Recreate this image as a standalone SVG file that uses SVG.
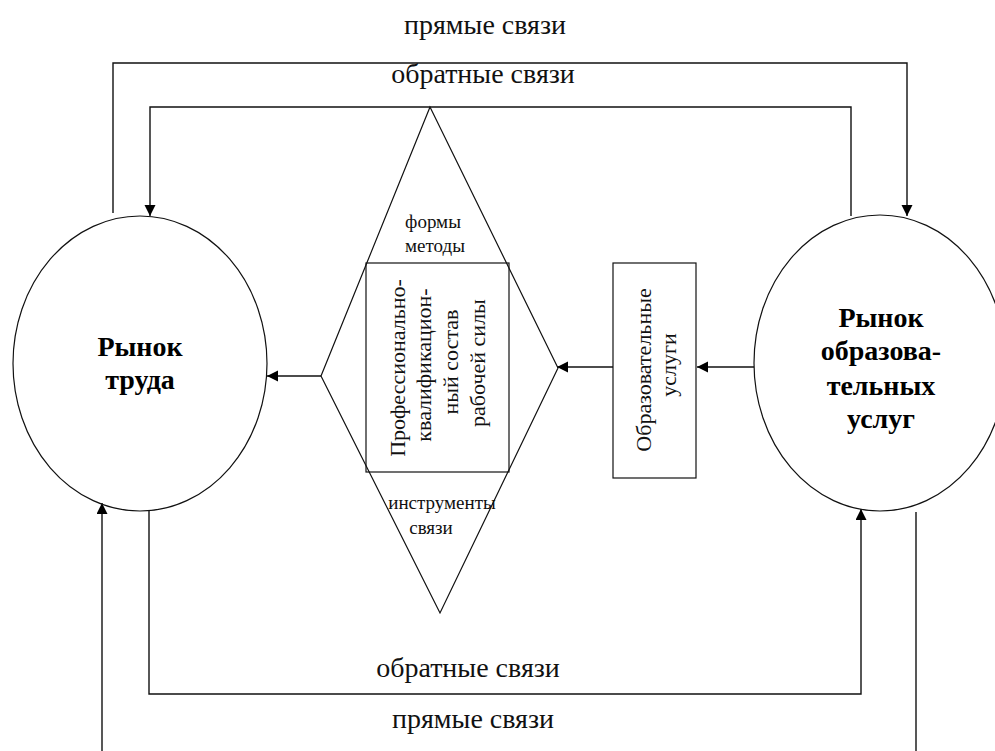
<svg xmlns="http://www.w3.org/2000/svg" width="995" height="751" viewBox="0 0 995 751">
<style>
  .shape { fill: none; stroke: #111; stroke-width: 1.2; }
  .line { fill: none; stroke: #111; stroke-width: 1.4; }
  .lbl { font-family: "Liberation Serif", "Times New Roman", serif; font-size: 28px; fill: #111; text-anchor: middle; }
  .big { font-family: "Liberation Serif", "Times New Roman", serif; font-size: 28px; font-weight: bold; fill: #000; text-anchor: middle; }
  .rot { font-family: "Liberation Serif", "Times New Roman", serif; font-size: 22px; fill: #111; text-anchor: middle; }
  .small { font-family: "Liberation Serif", "Times New Roman", serif; font-size: 19px; fill: #111; text-anchor: middle; }
</style>
<defs>
  <marker id="arr" markerUnits="userSpaceOnUse" markerWidth="12" markerHeight="12" refX="11" refY="5.5" orient="auto">
    <path d="M0,0 L11,5.5 L0,11 z" fill="#000"/>
  </marker>
</defs>
<rect x="0" y="0" width="995" height="751" fill="#fff"/>

<g id="connectors">
  <path class="line" d="M113,213 V63 H907 V216" marker-end="url(#arr)"/>
  <path class="line" d="M851,216 V107 H150 V216" marker-end="url(#arr)"/>
  <path class="line" d="M321,376 H267" marker-end="url(#arr)"/>
  <path class="line" d="M613,367 H557" marker-end="url(#arr)"/>
  <path class="line" d="M754,367 H697" marker-end="url(#arr)"/>
  <path class="line" d="M149,511 V694 H861 V509" marker-end="url(#arr)"/>
  <path class="line" d="M916,512 V751"/>
  <path class="line" d="M102,751 V503" marker-end="url(#arr)"/>
  <text class="lbl" x="485" y="34">прямые связи</text>
  <text class="lbl" x="483" y="83">обратные связи</text>
  <text class="lbl" x="468" y="677">обратные связи</text>
  <text class="lbl" x="473" y="728">прямые связи</text>
</g>

<g id="labour-market">
  <ellipse class="shape" cx="140" cy="363.5" rx="127" ry="147.5" fill="#fff"/>
  <text class="big" x="140" y="356">Рынок</text>
  <text class="big" x="140" y="389">труда</text>
</g>

<g id="education-market">
  <ellipse class="shape" cx="880" cy="363" rx="126" ry="148"/>
  <text class="big" x="881" y="327">Рынок</text>
  <text class="big" x="881" y="360">образова-</text>
  <text class="big" x="881" y="395">тельных</text>
  <text class="big" x="881" y="428">услуг</text>
</g>

<g id="diamond">
  <polygon class="shape" points="430,107 558,368 440,613 321,376"/>
  <text class="small" x="433" y="228">формы</text>
  <text class="small" x="435" y="252">методы</text>
  <text class="small" x="442" y="509">инструменты</text>
  <text class="small" x="431" y="534">связи</text>
</g>

<g id="workforce">
  <rect class="shape" x="366" y="263" width="143" height="209" fill="#fff"/>
  <text class="rot" transform="translate(405,368) rotate(-90)">Профессионально-</text>
  <text class="rot" transform="translate(431,365) rotate(-90)">квалификацион-</text>
  <text class="rot" transform="translate(458,362) rotate(-90)">ный состав</text>
  <text class="rot" transform="translate(485,363) rotate(-90)">рабочей силы</text>
</g>

<g id="edu-services">
  <rect class="shape" x="613" y="263" width="83" height="215" fill="#fff"/>
  <text class="rot" transform="translate(651,370) rotate(-90)">Образовательные</text>
  <text class="rot" transform="translate(676,365) rotate(-90)">услуги</text>
</g>
</svg>
